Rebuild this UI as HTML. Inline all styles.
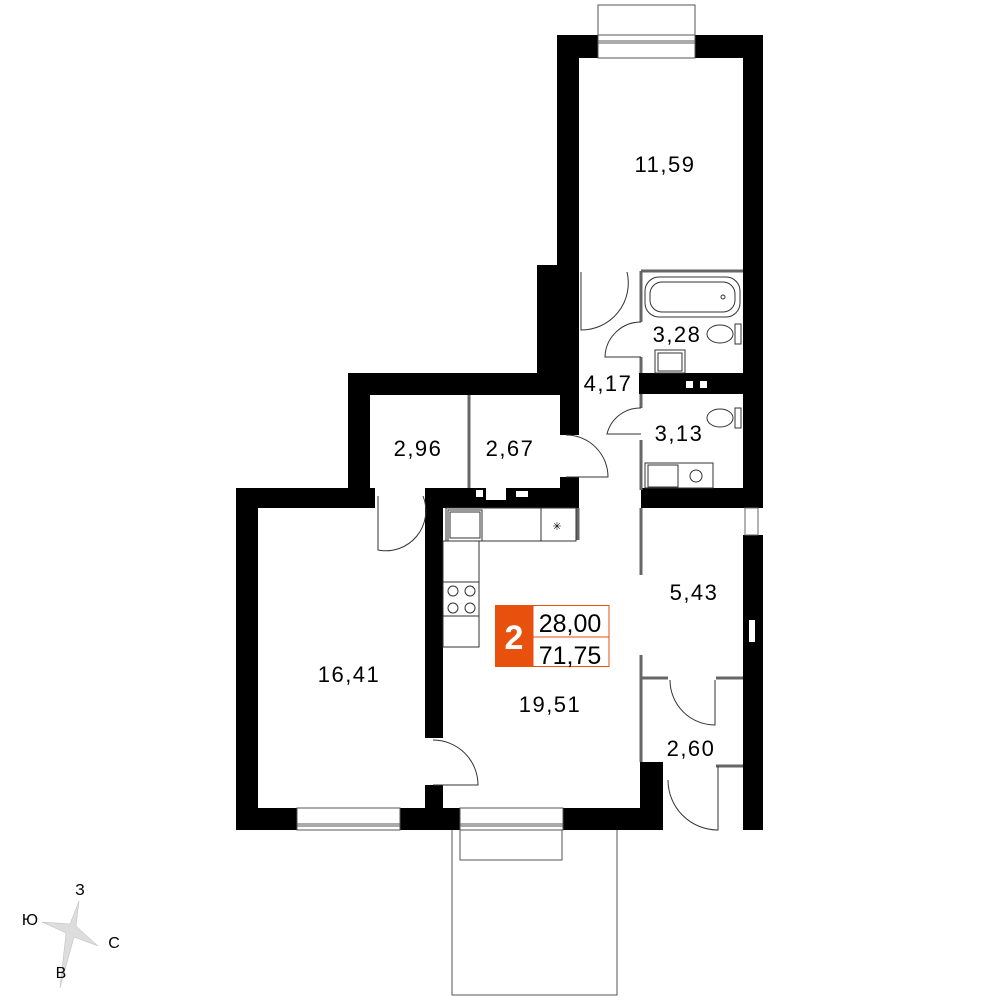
<!DOCTYPE html>
<html><head><meta charset="utf-8"><style>html,body{margin:0;padding:0;background:#fff}svg{display:block}text{font-family:"Liberation Sans",sans-serif}</style></head>
<body>
<svg width="1000" height="1000" viewBox="0 0 1000 1000" xmlns="http://www.w3.org/2000/svg">
<g fill="#000">
<rect x="557" y="35" width="41" height="23"/>
<rect x="695" y="35" width="68" height="23"/>
<rect x="557" y="35" width="22" height="235"/>
<rect x="743" y="35" width="20" height="455"/>
<rect x="537" y="265" width="42" height="130"/>
<rect x="560" y="265" width="19" height="170"/>
<rect x="348" y="373" width="231" height="22"/>
<rect x="639" y="373" width="124" height="21"/>
<rect x="348" y="373" width="22" height="135"/>
<rect x="236" y="488" width="139" height="20"/>
<rect x="425" y="488" width="153" height="20"/>
<rect x="560" y="477" width="19" height="31"/>
<rect x="641" y="488" width="122" height="20"/>
<rect x="236" y="488" width="22" height="342"/>
<rect x="236" y="808" width="61" height="22"/>
<rect x="400" y="808" width="60" height="22"/>
<rect x="563" y="808" width="100" height="22"/>
<rect x="425" y="488" width="18" height="250"/>
<rect x="425" y="785" width="18" height="45"/>
<rect x="640" y="762" width="23" height="68"/>
<rect x="743" y="535" width="20" height="295"/>
</g>
<rect x="686" y="381" width="7" height="7" fill="#fff"/><rect x="700" y="381" width="7" height="7" fill="#fff"/>
<rect x="476" y="490" width="7" height="7" fill="#fff"/><rect x="486" y="488" width="20" height="12" fill="#fff"/><rect x="516" y="491" width="12" height="6" fill="#fff"/>
<rect x="749" y="620" width="6" height="22" fill="#fff"/>
<rect x="745" y="508" width="13" height="27" fill="#fff" stroke="#666" stroke-width="1"/>
<g fill="#fff" stroke="#555" stroke-width="1">
<rect x="598" y="5" width="97" height="30"/><rect x="598" y="35" width="97" height="23"/>
<line x1="598" y1="41" x2="695" y2="41"/><line x1="598" y1="43" x2="695" y2="43"/>
<rect x="297" y="808" width="103" height="22"/><line x1="297" y1="824" x2="400" y2="824"/><line x1="297" y1="826" x2="400" y2="826"/>
<rect x="460" y="808" width="103" height="22"/><line x1="460" y1="824" x2="563" y2="824"/><line x1="460" y1="826" x2="563" y2="826"/>
<rect x="460" y="830" width="102" height="30"/>
</g>
<polyline points="452,830 452,995 617,995 617,830" fill="none" stroke="#555" stroke-width="1"/>
<g stroke="#666" stroke-width="3" fill="none">
<line x1="641" y1="271" x2="743" y2="271"/>
<line x1="641" y1="271" x2="641" y2="322"/><line x1="641" y1="357" x2="641" y2="373"/>
<line x1="641" y1="394" x2="641" y2="408"/><line x1="641" y1="440" x2="641" y2="490"/>
<line x1="469" y1="395" x2="469" y2="488"/>
<line x1="641" y1="508" x2="641" y2="575"/><line x1="641" y1="655" x2="641" y2="762"/>
<line x1="641" y1="678" x2="668" y2="678"/><line x1="716" y1="678" x2="743" y2="678"/>
<line x1="716" y1="766" x2="743" y2="766"/>
<line x1="578" y1="508" x2="578" y2="540"/>
</g>
<g stroke="#333" stroke-width="1" fill="none">
<path d="M581,272 V330 A47,47 0 0 0 627,272"/>
<path d="M641,322 A36,36 0 0 0 605,357 H641"/>
<path d="M641,408 A34,34 0 0 0 607,434 H641"/>
<path d="M566,435 A42,42 0 0 1 608,477 H566"/>
<path d="M378,496 V550 A40,40 0 0 0 423,496"/>
<path d="M433,740 A45,45 0 0 1 478,785 H433"/>
<path d="M670,680 A45,45 0 0 0 715,725 V680"/>
<path d="M668,780 A50,50 0 0 0 718,830 V766"/>
<rect x="645" y="277" width="95" height="40" rx="14"/><rect x="650" y="282" width="85" height="30" rx="12"/>
<circle cx="723" cy="297" r="2"/>
<ellipse cx="720" cy="334" rx="13" ry="9"/><rect x="735" y="324" width="6" height="20"/>
<rect x="655" y="350" width="30" height="23"/><rect x="658" y="353" width="24" height="18"/>
<ellipse cx="720" cy="418" rx="13" ry="9"/><rect x="735" y="408" width="6" height="20"/>
<rect x="645" y="463" width="68" height="25"/><rect x="648" y="465" width="30" height="22"/><circle cx="696" cy="476" r="6"/>
<rect x="446" y="508" width="130" height="33"/><rect x="448" y="510" width="34" height="31"/><rect x="450" y="512" width="30" height="26"/><line x1="541" y1="508" x2="541" y2="541"/>
<rect x="443" y="541" width="36" height="106"/><line x1="443" y1="582" x2="479" y2="582"/><line x1="443" y1="616" x2="479" y2="616"/>
<circle cx="453" cy="591" r="5"/><circle cx="470" cy="591" r="5"/><circle cx="453" cy="608" r="5"/><circle cx="470" cy="608" r="5"/>
</g>
<text x="557" y="530" font-size="11" text-anchor="middle">✳</text>
<g font-size="22" letter-spacing="1.5" text-anchor="middle" fill="#000">
<text x="665" y="172">11,59</text>
<text x="677" y="342">3,28</text>
<text x="608" y="391">4,17</text>
<text x="679" y="441">3,13</text>
<text x="418" y="456">2,96</text>
<text x="510" y="456">2,67</text>
<text x="694" y="600">5,43</text>
<text x="349" y="682">16,41</text>
<text x="550" y="712">19,51</text>
<text x="691" y="756">2,60</text>
</g>
<rect x="495" y="605" width="38" height="62" fill="#E8500E"/>
<rect x="533" y="605.5" width="76" height="61" fill="#fff" stroke="#E8500E" stroke-width="1"/>
<line x1="533" y1="637" x2="609" y2="637" stroke="#E8500E" stroke-width="1"/>
<text x="514" y="649" font-size="34" font-weight="bold" fill="#fff" text-anchor="middle">2</text>
<text x="570" y="632" font-size="25" text-anchor="middle">28,00</text>
<text x="570" y="664" font-size="25" text-anchor="middle">71,75</text>
<polygon points="79,901 76,926 98,946 74,937 60,988 66,933 42,922 70,924" fill="#ddd" stroke="#bbb" stroke-width="0.5"/>
<g font-size="16" text-anchor="middle">
<text x="80" y="895">З</text><text x="30" y="925">Ю</text><text x="114" y="948">С</text><text x="61" y="978">В</text>
</g>
</svg>
</body></html>
